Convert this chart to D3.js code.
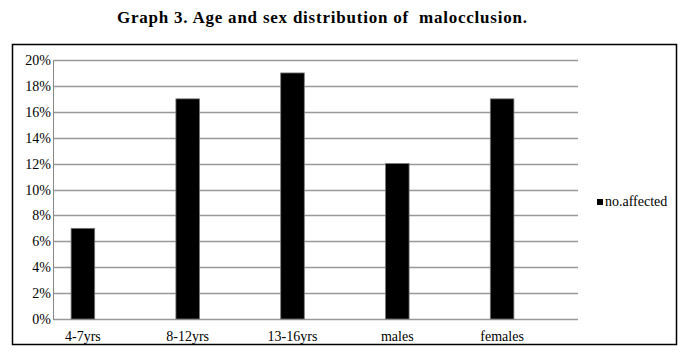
<!DOCTYPE html>
<html>
<head>
<meta charset="utf-8">
<script src="https://cdn.jsdelivr.net/npm/d3@7"></script>
<style>
  body { margin: 0; background: #fff; }
</style>
</head>
<body>
<script>
let categories = ['4-7yrs', '8-12yrs', '13-16yrs', 'males', 'females']
let values = [7, 17, 19, 12, 17]
let yTicks = [0, 2, 4, 6, 8, 10, 12, 14, 16, 18, 20]
let seriesName = 'no.affected'
let title = 'Graph 3. Age and sex distribution of  malocclusion.'

let width = 687, height = 363
let serif = "'Liberation Serif', 'Times New Roman', 'DejaVu Serif', serif"

let svg = d3.select('body')
    .append('svg')
    .attr('width', width)
    .attr('height', height)
    .attr('font-family', serif)

// title
svg.append('text')
    .attr('x', 117)
    .attr('y', 23)
    .attr('textLength', 410)
    .attr('lengthAdjust', 'spacing')
    .style('font-size', '17px')
    .style('font-weight', 'bold')
    .style('white-space', 'pre')
    .text(title)

// outer frame
svg.append('rect')
    .attr('x', 12.5)
    .attr('y', 44.5)
    .attr('width', 664)
    .attr('height', 300)
    .attr('fill', 'none')
    .attr('stroke', '#000')
    .attr('stroke-width', 1.5)

let plotLeft = 53, plotRight = 578

let y = d3.scaleLinear()
    .domain([0, 20])
    .range([319, 60])

let x = d3.scaleBand()
    .domain(categories)
    .range([30.5, 554.5])
    .paddingInner(0.775)
    .paddingOuter(0.3875)

// gridlines
svg.append('g')
    .selectAll('line')
    .data(yTicks)
    .enter().append('line')
    .attr('x1', plotLeft)
    .attr('x2', plotRight)
    .attr('y1', d => Math.round(y(d)) + 0.5)
    .attr('y2', d => Math.round(y(d)) + 0.5)
    .attr('stroke', '#999')
    .attr('stroke-width', 1.3)

// y axis line
svg.append('line')
    .attr('x1', plotLeft + 0.5)
    .attr('x2', plotLeft + 0.5)
    .attr('y1', y(20))
    .attr('y2', y(0) + 1)
    .attr('stroke', '#888')

// y labels
svg.append('g')
    .selectAll('text')
    .data(yTicks)
    .enter().append('text')
    .attr('x', plotLeft - 2)
    .attr('y', d => y(d) + 5)
    .attr('text-anchor', 'end')
    .style('font-size', '14px')
    .text(d => d + '%')

// bars
svg.append('g')
    .selectAll('rect')
    .data(values)
    .enter().append('rect')
    .attr('x', (d, i) => x(categories[i]))
    .attr('y', d => y(d))
    .attr('width', x.bandwidth())
    .attr('height', d => y(0) - y(d))
    .attr('fill', '#000')
    .attr('stroke', '#777')
    .attr('stroke-width', 0.8)

// category labels
svg.append('g')
    .selectAll('text')
    .data(categories)
    .enter().append('text')
    .attr('x', d => x(d) + x.bandwidth() / 2)
    .attr('y', 341)
    .attr('text-anchor', 'middle')
    .style('font-size', '14px')
    .text(d => d)

// legend
svg.append('rect')
    .attr('x', 597)
    .attr('y', 199)
    .attr('width', 6)
    .attr('height', 6)
    .attr('fill', '#000')

svg.append('text')
    .attr('x', 605)
    .attr('y', 206)
    .style('font-size', '14px')
    .text(seriesName)
</script>
</body>
</html>
